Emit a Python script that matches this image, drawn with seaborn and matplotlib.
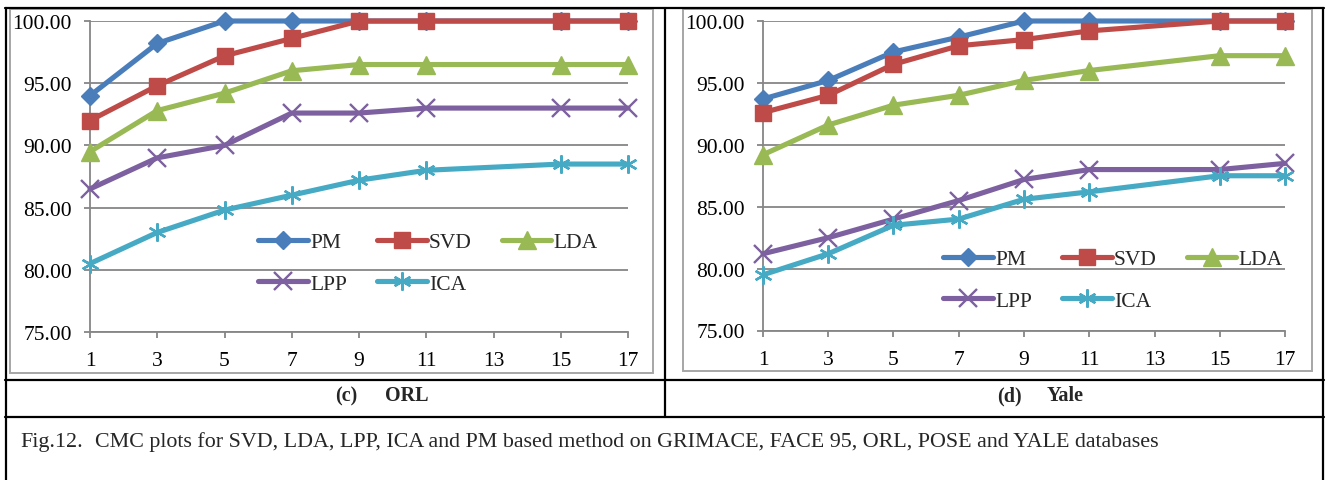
import numpy as np
import pandas as pd
import matplotlib
matplotlib.use("Agg")
import matplotlib.pyplot as plt
from matplotlib.lines import Line2D
from matplotlib.patches import Rectangle
from matplotlib.ticker import FormatStrFormatter
import seaborn as sns

# ---------------- data ----------------
ranks = ["1", "3", "5", "7", "9", "11", "13", "15", "17"]
methods = ["PM", "SVD", "LDA", "LPP", "ICA"]
nan = np.nan

orl_pm  = [94.0, 98.2, 100.0, 100.0, 100.0, 100.0, nan, 100.0, 100.0]
orl_svd = [92.0, 94.8, 97.2, 98.6, 100.0, 100.0, nan, 100.0, 100.0]
orl_lda = [89.5, 92.8, 94.2, 96.0, 96.5, 96.5, nan, 96.5, 96.5]
orl_lpp = [86.5, 89.0, 90.0, 92.6, 92.6, 93.0, nan, 93.0, 93.0]
orl_ica = [80.5, 83.0, 84.8, 86.0, 87.2, 88.0, nan, 88.5, 88.5]

yale_pm  = [93.7, 95.2, 97.5, 98.7, 100.0, 100.0, nan, 100.0, 100.0]
yale_svd = [92.6, 94.0, 96.5, 98.0, 98.5, 99.2, nan, 100.0, 100.0]
yale_lda = [89.2, 91.6, 93.2, 94.0, 95.2, 96.0, nan, 97.2, 97.2]
yale_lpp = [81.2, 82.5, 84.0, 85.5, 87.2, 88.0, nan, 88.0, 88.5]
yale_ica = [79.5, 81.2, 83.5, 84.0, 85.6, 86.2, nan, 87.5, 87.5]

y_ticks = [75, 80, 85, 90, 95, 100]

panel_c = "(c)"
panel_c_name = "ORL"
panel_d = "(d)"
panel_d_name = "Yale"
fig_no = "Fig.12."
fig_caption = ("CMC plots for SVD, LDA, LPP, ICA and PM based method on GRIMACE, "
               "FACE 95, ORL, POSE and YALE databases")

# ---------------- style ----------------
colors = {"PM": "#4A7EBB", "SVD": "#BE4B48", "LDA": "#98B954",
          "LPP": "#7D60A0", "ICA": "#46AAC5"}
markers = {"PM": "D", "SVD": "s", "LDA": "^", "LPP": "x", "ICA": (6, 2, 0)}
msizes = {"PM": 9.5, "SVD": 11.5, "LDA": 13, "LPP": 12.5, "ICA": 13}
mews = {"PM": 1.0, "SVD": 1.0, "LDA": 1.0, "LPP": 1.7, "ICA": 1.7}

sns.set_style("white")
plt.rcParams["font.family"] = ["Liberation Serif", "DejaVu Serif"]

W, H = 1326, 481
fig = plt.figure(figsize=(W / 100, H / 100), dpi=100)


def fx(px):
    return px / W


def fy(py):
    return 1 - py / H


def make_df(series):
    frames = []
    for m, vals in zip(methods, series):
        frames.append(pd.DataFrame({"Rank": ranks, "Method": m, "Value": vals}))
    df = pd.concat(frames, ignore_index=True)
    df["Rank"] = pd.Categorical(df["Rank"], categories=ranks, ordered=True)
    return df


df_orl = make_df([orl_pm, orl_svd, orl_lda, orl_lpp, orl_ica])
df_yale = make_df([yale_pm, yale_svd, yale_lda, yale_lpp, yale_ica])

grid_c = "#868686"
tick_fs = 15.5


def draw_panel(ax, df, leg_center):
    for m in methods:
        sub = df[df["Method"] == m]
        sns.lineplot(data=sub, x="Rank", y="Value", ax=ax, color=colors[m],
                     marker=markers[m], markersize=msizes[m],
                     markeredgecolor=colors[m], markerfacecolor=colors[m],
                     markeredgewidth=mews[m], linewidth=3.7, label=m,
                     clip_on=False, zorder=3, sort=False)
    ax.set_xlim(0, len(ranks) - 1)
    ax.set_ylim(75, 100)
    ax.set_yticks(y_ticks)
    ax.set_xticks(range(len(ranks)))
    ax.set_xticklabels(ranks)
    ax.yaxis.set_major_formatter(FormatStrFormatter("%.2f"))
    ax.set_xlabel("")
    ax.set_ylabel("")
    ax.set_facecolor("none")
    ax.grid(False)
    ax.yaxis.grid(True, color=grid_c, linewidth=1.3, zorder=0)
    ax.set_axisbelow(True)
    for s in ["top", "right"]:
        ax.spines[s].set_visible(False)
    for s in ["left", "bottom"]:
        ax.spines[s].set_visible(True)
        ax.spines[s].set_color(grid_c)
        ax.spines[s].set_linewidth(1.3)
    ax.tick_params(axis="x", bottom=True, direction="out", length=4,
                   width=1.3, color=grid_c, pad=10, labelsize=tick_fs,
                   labelcolor="black")
    ax.tick_params(axis="y", left=True, direction="out", length=4,
                   width=1.3, color=grid_c, pad=9, labelsize=tick_fs,
                   labelcolor="black")
    handles, labels = ax.get_legend_handles_labels()
    hmap = dict(zip(labels, handles))
    order = ["PM", "LPP", "SVD", "ICA", "LDA"]
    ax.legend([hmap[k] for k in order], order, ncol=3, loc="center",
              bbox_to_anchor=leg_center, bbox_transform=fig.transFigure,
              frameon=False, fontsize=15.5, handlelength=2.3,
              handletextpad=0.1, columnspacing=1.4, labelspacing=1.0,
              borderpad=0, numpoints=1)


ax1 = fig.add_axes([fx(90), fy(333), fx(628) - fx(90), (333 - 22) / H])
ax2 = fig.add_axes([fx(763), fy(331.5), fx(1285) - fx(763), (331.5 - 22) / H])

draw_panel(ax1, df_orl, (fx(428), fy(264)))
draw_panel(ax2, df_yale, (fx(1113), fy(281)))

# chart frames (gray)
for (x0, y0, x1, y1) in [(10, 10, 653, 374), (683, 10, 1312, 372)]:
    fig.add_artist(Rectangle((fx(x0), fy(y1)), fx(x1) - fx(x0), (y1 - y0) / H,
                             transform=fig.transFigure, fill=False,
                             edgecolor="#a6a6a6", linewidth=1.4, zorder=0))

# table lines (black)
tbl = dict(color="black", linewidth=1.6, transform=fig.transFigure, zorder=5)
for (x0, y0, x1, y1) in [(5, 9, 1324, 9), (6, 9, 6, 481), (1323, 9, 1323, 481),
                         (665, 9, 665, 418), (5, 381, 1324, 381),
                         (5, 418, 1324, 418)]:
    fig.add_artist(Line2D([fx(x0), fx(x1)], [fy(y0), fy(y1)], **tbl))

# panel captions
cap_kw = dict(fontsize=14.5, fontweight="bold", va="center", ha="left")
fig.text(fx(335), fy(396), panel_c, **cap_kw)
fig.text(fx(385), fy(396), panel_c_name, **cap_kw)
fig.text(fx(997), fy(396), panel_d, **cap_kw)
fig.text(fx(1047), fy(396), panel_d_name, **cap_kw)

# figure caption
fig.text(fx(20), fy(442), fig_no, fontsize=15.8, va="center", ha="left")
fig.text(fx(95), fy(442), fig_caption, fontsize=15.8, va="center", ha="left")

fig.savefig("out.png", dpi=100, facecolor="white")
